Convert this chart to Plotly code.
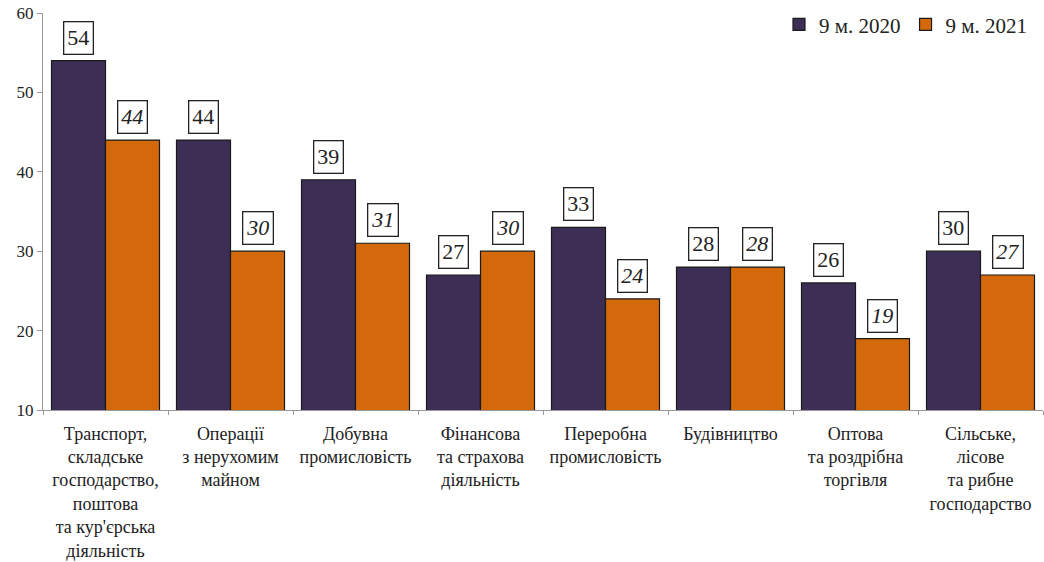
import plotly.graph_objects as go

categories = [
    "Транспорт,<br>складське<br>господарство,<br>поштова<br>та кур'єрська<br>діяльність",
    "Операції<br>з нерухомим<br>майном",
    "Добувна<br>промисловість",
    "Фінансова<br>та страхова<br>діяльність",
    "Переробна<br>промисловість",
    "Будівництво",
    "Оптова<br>та роздрібна<br>торгівля",
    "Сільське,<br>лісове<br>та рибне<br>господарство",
]
values_2020 = [54, 44, 39, 27, 33, 28, 26, 30]
values_2021 = [44, 30, 31, 30, 24, 28, 19, 27]
series_names = ["9 м. 2020", "9 м. 2021"]
y_ticks = [10, 20, 30, 40, 50, 60]

c2020 = "#3d2e55"
c2021 = "#d4690b"
FONT = "Liberation Serif, Times New Roman, serif"

fig = go.Figure()
fig.add_trace(go.Bar(x=categories, y=values_2020, name=series_names[0], base=0,
                     marker=dict(color=c2020, line=dict(color="#1a1a1a", width=1.2))))
fig.add_trace(go.Bar(x=categories, y=values_2021, name=series_names[1], base=0,
                     marker=dict(color=c2021, line=dict(color="#1a1a1a", width=1.2))))

plot_w = 1000
bargap = 0.136
half = plot_w / len(categories) * (1 - bargap) / 4

for i, cat in enumerate(categories):
    fig.add_annotation(x=cat, y=values_2020[i], xref="x", yref="y", xshift=-half,
                       yshift=6, yanchor="bottom", showarrow=False,
                       text=str(values_2020[i]),
                       font=dict(family=FONT, size=22, color="#222"),
                       bordercolor="#222", borderwidth=1.3, borderpad=3, bgcolor="white")
    fig.add_annotation(x=cat, y=values_2021[i], xref="x", yref="y", xshift=half,
                       yshift=6, yanchor="bottom", showarrow=False,
                       text="<i>" + str(values_2021[i]) + "</i>",
                       font=dict(family=FONT, size=22, color="#222"),
                       bordercolor="#222", borderwidth=1.3, borderpad=3, bgcolor="white")

fig.update_layout(
    width=1044, height=562,
    margin=dict(l=43, r=1, t=13, b=152),
    paper_bgcolor="white", plot_bgcolor="white",
    barmode="group", bargap=bargap, bargroupgap=0,
    font=dict(family=FONT, size=18, color="#222"),
    legend=dict(orientation="h", x=0.99, xanchor="right", y=1.022, yanchor="top",
                font=dict(family=FONT, size=21, color="#222"),
                itemwidth=30, traceorder="normal", bgcolor="rgba(0,0,0,0)"),
    showlegend=True,
)
fig.update_xaxes(type="category", tickson="boundaries", ticks="outside", ticklen=4,
                 tickcolor="#999", showline=True, linecolor="#999", linewidth=1,
                 tickfont=dict(family=FONT, size=18, color="#222"), tickangle=0,
                 ticklabelstandoff=7,
                 showgrid=False, automargin=False)
fig.update_yaxes(range=[10, 60], tickvals=y_ticks, ticks="outside", ticklen=5,
                 tickcolor="#999", showline=True, linecolor="#999", linewidth=1,
                 showgrid=False, zeroline=False, automargin=False,
                 tickfont=dict(family=FONT, size=17, color="#222"))

fig.write_html("out.html", config={"displayModeBar": False},
               post_script="document.body.style.margin='0';")
